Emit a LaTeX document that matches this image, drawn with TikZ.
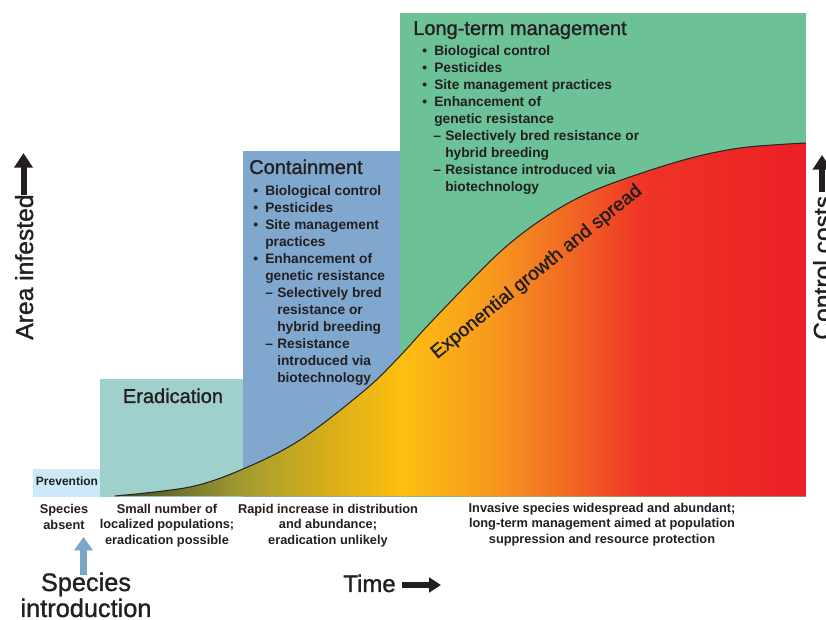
\documentclass[tikz,border=0pt]{standalone}
\usepackage{fontspec}
\setmainfont{Liberation Sans}
\newfontface\medfont{Liberation Sans}[FakeBold=1.2]
\usetikzlibrary{arrows.meta}
\definecolor{prevc}{HTML}{CDE8F6}
\definecolor{eradc}{HTML}{9FD0CC}
\definecolor{contc}{HTML}{80A8CF}
\definecolor{ltmc}{HTML}{6CC196}
\definecolor{textc}{HTML}{231F20}
\definecolor{bluearr}{HTML}{7AA6C8}
\definecolor{gA}{HTML}{3F4B2C}
\definecolor{gB}{HTML}{A39C30}
\definecolor{gC}{HTML}{D9AE1A}
\definecolor{gD}{HTML}{FDBF10}
\definecolor{gE}{HTML}{F79A1E}
\definecolor{gF}{HTML}{F26A24}
\definecolor{gG}{HTML}{EE3526}
\definecolor{gH}{HTML}{EC1F26}
\newcommand{\mybul}{\makebox[9pt][l]{\textbullet}}
\newcommand{\mydash}{\makebox[9pt][l]{--}}
\begin{document}
\begin{tikzpicture}[x=0.75pt,y=-0.75pt,
  lst/.style={inner sep=0pt, text=textc, font=\bfseries\fontsize{10.3}{12.75}\selectfont, anchor=base west},
  bot/.style={inner sep=0pt, text=textc, font=\bfseries\fontsize{9.6}{11.6}\selectfont, anchor=base},
  head/.style={inner sep=0pt, text=textc, font=\medfont\fontsize{15}{18}\selectfont, anchor=base west},
  big/.style={inner sep=0pt, text=textc, font=\medfont\fontsize{19}{23}\selectfont},
  blackarrow/.style={draw=textc, line width=4.5pt, -{Triangle[width=13.5pt,length=11pt]}},
  bluearrow/.style={draw=bluearr, line width=5.2pt, -{Triangle[width=13.5pt,length=10pt]}},
  curveline/.style={draw=black!85, line width=0.8pt}]
\useasboundingbox (0,0) rectangle (826,620);
% boxes
\fill[ltmc] (400,13) rectangle (806,497);
\fill[contc] (243,151) rectangle (400,497);
\fill[eradc] (100,379) rectangle (243,497);
\fill[prevc] (33,469) rectangle (100,497);
% curve area
\def\curvepts{(115,496) (190,487) (243,469) (300,440) (365,390) (400,356) (433,320) (500,252) (550,214) (600,188) (680,161) (740,148) (806,143)}
\begin{scope}
\clip plot[smooth,tension=0.55] coordinates {\curvepts} -- (806,496.5) -- cycle;
\shade[left color=gA, right color=gB] (115,130) rectangle (243.6,497);
\shade[left color=gB, right color=gC] (243,130) rectangle (330.6,497);
\shade[left color=gC, right color=gD] (330,130) rectangle (400.6,497);
\shade[left color=gD, right color=gE] (400,130) rectangle (490.6,497);
\shade[left color=gE, right color=gF] (490,130) rectangle (565.6,497);
\shade[left color=gF, right color=gG] (565,130) rectangle (640.6,497);
\shade[left color=gG, right color=gH] (640,130) rectangle (806,497);
\end{scope}
\draw[curveline] plot[smooth,tension=0.55] coordinates {\curvepts};
% headers
\node[head] (hlt) at (413,35) {Long-term management};
\node[head] (hcont) at (249,174) {Containment};
\node[head, anchor=base] (herad) at (173,403) {Eradication};
\node[inner sep=0pt, text=textc, font=\bfseries\fontsize{9}{11}\selectfont, anchor=base] (hprev) at (67,486) {Prevention};
% containment list
\node[lst] (c1) at (253,196) {\mybul Biological control};
\node[lst] (c2) at (253,213) {\mybul Pesticides};
\node[lst] (c3) at (253,230) {\mybul Site management};
\node[lst] (c4) at (265,247) {practices};
\node[lst] (c5) at (253,264) {\mybul Enhancement of};
\node[lst] (c6) at (265,281) {genetic resistance};
\node[lst] (c7) at (265,298) {\mydash Selectively bred};
\node[lst] (c8) at (277,315) {resistance or};
\node[lst] (c9) at (277,332) {hybrid breeding};
\node[lst] (c10) at (265,349) {\mydash Resistance};
\node[lst] (c11) at (277,366) {introduced via};
\node[lst] (c12) at (277,383) {biotechnology};
% long-term list
\node[lst] (l1) at (422,56) {\mybul Biological control};
\node[lst] (l2) at (422,73) {\mybul Pesticides};
\node[lst] (l3) at (422,90) {\mybul Site management practices};
\node[lst] (l4) at (422,107) {\mybul Enhancement of};
\node[lst] (l5) at (434,124) {genetic resistance};
\node[lst] (l6) at (433,141) {\mydash Selectively bred resistance or};
\node[lst] (l7) at (445,158) {hybrid breeding};
\node[lst] (l8) at (433,175) {\mydash Resistance introduced via};
\node[lst] (l9) at (445,192) {biotechnology};
% curve label
\node[inner sep=0pt, text=textc, font=\medfont\fontsize{14.4}{17}\selectfont, rotate=39, anchor=base] (expo) at (540,276) {Exponential growth and spread};
% bottom descriptions
\node[bot] (b1a) at (64,514) {Species};
\node[bot] (b1b) at (64,530) {absent};
\node[bot] (b2a) at (167,514) {Small number of};
\node[bot] (b2b) at (167,529) {localized populations;};
\node[bot] (b2c) at (167,545) {eradication possible};
\node[bot] (b3a) at (328,514) {Rapid increase in distribution};
\node[bot] (b3b) at (328,529) {and abundance;};
\node[bot] (b3c) at (328,545) {eradication unlikely};
\node[bot] (b4a) at (602,513) {Invasive species widespread and abundant;};
\node[bot] (b4b) at (602,528) {long-term management aimed at population};
\node[bot] (b4c) at (602,544) {suppression and resource protection};
% big labels
\node[big, anchor=base] (sp1) at (86,591) {Species};
\node[big, anchor=base] (sp2) at (86,617) {introduction};
\node[big, font=\medfont\fontsize{18}{22}\selectfont, anchor=base west] (time) at (343,592) {Time};
\node[big, font=\medfont\fontsize{18.5}{22}\selectfont, rotate=90, anchor=base west] (area) at (33,340) {Area infested};
\node[big, font=\medfont\fontsize{18.5}{22}\selectfont, rotate=90, anchor=base west] (cost) at (831,340) {Control costs};
% arrows
\coordinate (ba0) at (83.5,575);
\coordinate (ba1) at (83.5,537);
\draw[bluearrow] (ba0) -- (ba1);
\coordinate (ta0) at (402,585);
\coordinate (ta1) at (441,585);
\draw[blackarrow, line width=3.8pt, -{Triangle[width=11pt,length=9pt]}] (ta0) -- (ta1);
\coordinate (aa0) at (23.5,195);
\coordinate (aa1) at (23.5,153);
\draw[blackarrow] (aa0) -- (aa1);
\coordinate (ca0) at (822,192);
\coordinate (ca1) at (822,155);
\draw[blackarrow] (ca0) -- (ca1);
\end{tikzpicture}
\end{document}
